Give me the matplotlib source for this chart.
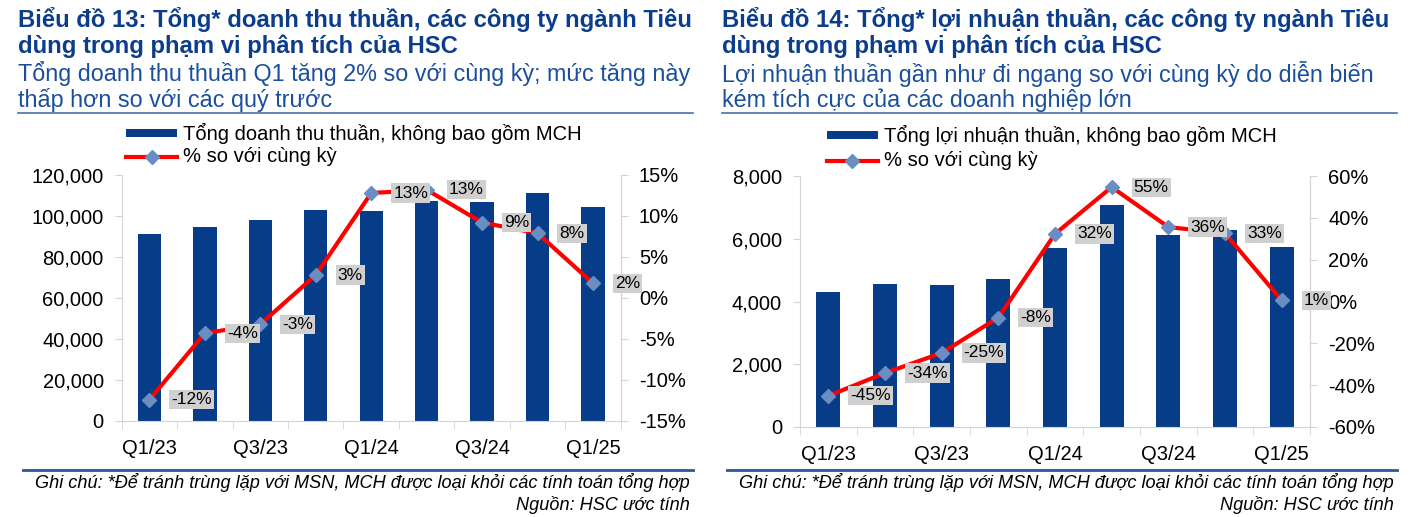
import matplotlib
matplotlib.use("Agg")
import matplotlib.pyplot as plt
from matplotlib.lines import Line2D
from matplotlib.patches import Rectangle

plt.rcParams['font.family'] = ['Liberation Sans', 'DejaVu Sans']

W, H = 1410, 517

quarters = ['Q1/23', 'Q2/23', 'Q3/23', 'Q4/23', 'Q1/24', 'Q2/24', 'Q3/24', 'Q4/24', 'Q1/25']
revenue = [91200, 94600, 98000, 103100, 102400, 107500, 106800, 111200, 104400]
revenue_yoy = [-12.4, -4.3, -3.2, 2.8, 12.8, 13.2, 9.2, 7.9, 1.8]
profit = [4310, 4570, 4520, 4720, 5700, 7070, 6120, 6280, 5730]
profit_yoy = [-45.1, -34.2, -24.6, -7.7, 32.3, 54.7, 35.6, 32.6, 0.6]

titles = [["Biểu đồ 13: Tổng* doanh thu thuần, các công ty ngành Tiêu",
           "dùng trong phạm vi phân tích của HSC"],
          ["Biểu đồ 14: Tổng* lợi nhuận thuần, các công ty ngành Tiêu",
           "dùng trong phạm vi phân tích của HSC"]]
subtitles = [["Tổng doanh thu thuần Q1 tăng 2% so với cùng kỳ; mức tăng này",
              "thấp hơn so với các quý trước"],
             ["Lợi nhuận thuần gần như đi ngang so với cùng kỳ do diễn biến",
              "kém tích cực của các doanh nghiệp lớn"]]
bar_names = ["Tổng doanh thu thuần, không bao gồm MCH",
             "Tổng lợi nhuận thuần, không bao gồm MCH"]
line_name = "% so với cùng kỳ"
note = "Ghi chú: *Để tránh trùng lặp với MSN, MCH được loại khỏi các tính toán tổng hợp"
source = "Nguồn: HSC ước tính"

BLUE_BAR = '#063C88'
TITLE_C = '#0B3D8C'
SUB_C = '#1A4F9C'
GRAY = '#D4D4D4'
MARK = '#6B8EC2'


def fx(px):
    return px / W


def fy(py):
    return 1 - py / H


fig = plt.figure(figsize=(W / 100, H / 100), dpi=100)


def draw_panel(x0, ax_box, leg, bars, yoy, ylim, yticks, y2lim, y2ticks, ylabels, title, sub, bar_name):
    # header
    fig.text(fx(x0), fy(20), title[0], fontsize=17.2, fontweight='bold', color=TITLE_C, va='center')
    fig.text(fx(x0), fy(46), title[1], fontsize=17.2, fontweight='bold', color=TITLE_C, va='center')
    fig.text(fx(x0), fy(74), sub[0], fontsize=16.8, color=SUB_C, va='center')
    fig.text(fx(x0), fy(100), sub[1], fontsize=16.8, color=SUB_C, va='center')
    fig.add_artist(Line2D([fx(x0), fx(x0 + 675)], [fy(113), fy(113)], color='#4A6FA8', lw=1.2))

    # legend drawn by hand
    lx, ly1, ly2 = leg
    fig.add_artist(Rectangle((fx(lx), fy(ly1 + 4.3)), fx(51), 8.5 / H, color=BLUE_BAR, lw=0))
    fig.text(fx(lx + 57), fy(ly1), bar_name, fontsize=14.5, va='center')
    fig.add_artist(Line2D([fx(lx), fx(lx + 51)], [fy(ly2), fy(ly2)], color='#FF0000', lw=3))
    fig.add_artist(Line2D([fx(lx + 25.5)], [fy(ly2)], marker='D', color=MARK, markersize=7, lw=0))
    fig.text(fx(lx + 57), fy(ly2), line_name, fontsize=14.5, va='center')

    # chart
    left, top, right, bottom = ax_box
    ax = fig.add_axes([fx(left), fy(bottom), fx(right - left), (bottom - top) / H])
    x = list(range(len(quarters)))
    ax.bar(x, bars, width=0.42, color=BLUE_BAR, zorder=2)
    ax.set_xlim(-0.5, len(quarters) - 0.5)
    ax.set_ylim(*ylim)
    ax.set_yticks(yticks)
    ax.set_yticklabels(ylabels, fontsize=14.5)
    ax.set_xticks(x[::2])
    ax.set_xticklabels(quarters[::2], fontsize=14.5)
    ax.set_xticks([i - 0.5 for i in range(len(quarters) + 1)], minor=True)
    ax.tick_params(axis='x', which='major', length=0, pad=13)
    ax.tick_params(axis='x', which='minor', length=6, color=GRAY)
    ax.tick_params(axis='y', length=5, color=GRAY, pad=8)
    ax.spines['top'].set_visible(False)
    for s in ['left', 'bottom', 'right']:
        ax.spines[s].set_color(GRAY)

    ax2 = ax.twinx()
    ax2.plot(x, yoy, color='#FF0000', lw=3, marker='D', markersize=7.5,
             markerfacecolor=MARK, markeredgecolor=MARK, zorder=3)
    ax2.set_ylim(*y2lim)
    ax2.set_yticks(y2ticks)
    ax2.set_yticklabels(['{:.0f}%'.format(t) for t in y2ticks], fontsize=14.5)
    ax2.tick_params(axis='y', length=5, color=GRAY, pad=8)
    for s in ['top', 'left', 'bottom']:
        ax2.spines[s].set_visible(False)
    ax2.spines['right'].set_color(GRAY)
    for xi, v in zip(x, yoy):
        ax2.annotate('{:.0f}%'.format(v), (xi, v), xytext=(22, 0), textcoords='offset pixels',
                     ha='left', va='center', fontsize=12.5, zorder=5,
                     bbox=dict(boxstyle='square,pad=0.12', fc='#D0D0D0', ec='none'))

    # footer
    fig.add_artist(Line2D([fx(x0 + 5), fx(x0 + 675)], [fy(470), fy(470)], color='#2E5597', lw=2))
    fig.text(fx(x0 + 672), fy(483), note, fontsize=13.1, style='italic', ha='right', va='center')
    fig.text(fx(x0 + 672), fy(505), source, fontsize=13.1, style='italic', ha='right', va='center')


draw_panel(18, (121.7, 175, 620.7, 421), (126, 133, 157), revenue, revenue_yoy,
           (0, 120000), list(range(0, 120001, 20000)), (-15, 15), list(range(-15, 16, 5)),
           ['{:,}'.format(v) for v in range(0, 120001, 20000)],
           titles[0], subtitles[0], bar_names[0])

draw_panel(722, (800, 176, 1310, 427), (827, 135, 161), profit, profit_yoy,
           (0, 8000), list(range(0, 8001, 2000)), (-60, 60), list(range(-60, 61, 20)),
           ['{:,}'.format(v) for v in range(0, 8001, 2000)],
           titles[1], subtitles[1], bar_names[1])

fig.savefig('out.png', dpi=100)
